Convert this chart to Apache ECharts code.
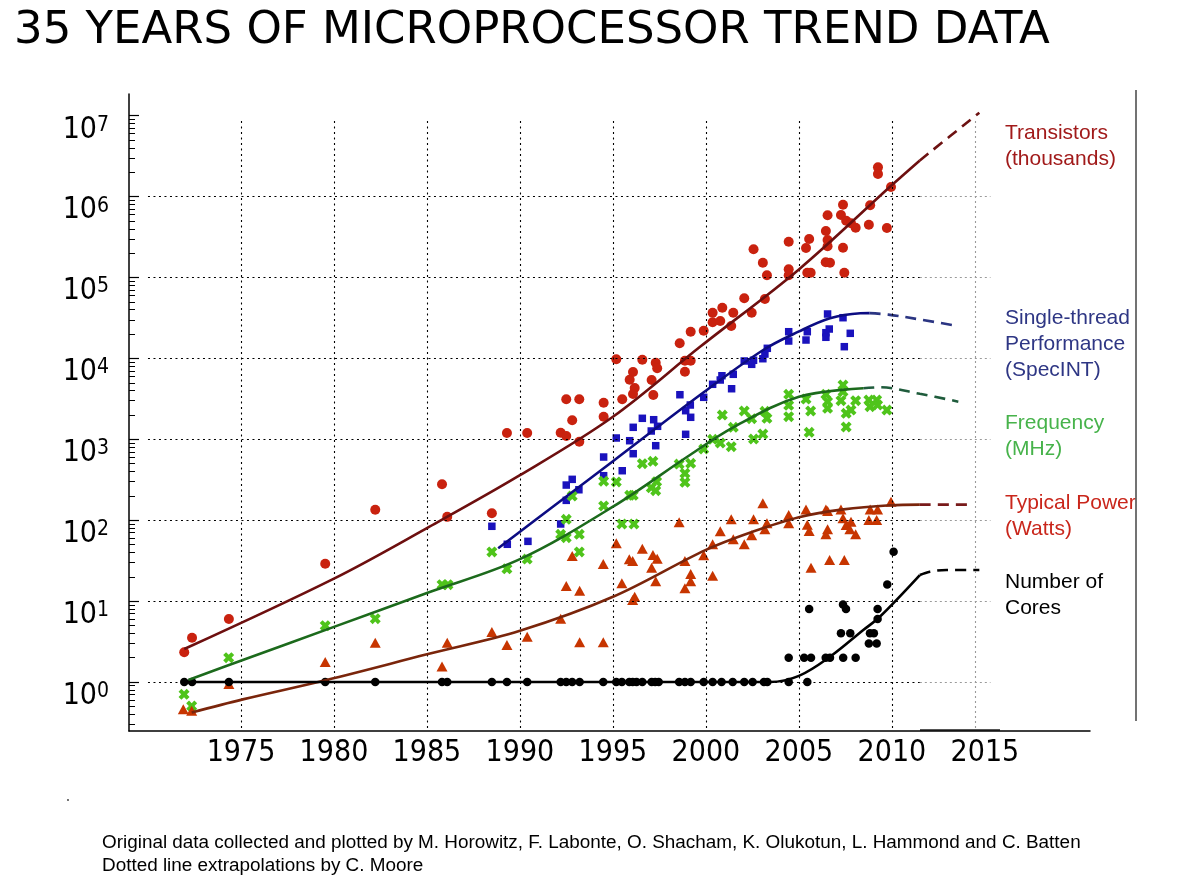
<!DOCTYPE html>
<html><head><meta charset="utf-8">
<script src="https://cdn.jsdelivr.net/npm/echarts@6/dist/echarts.min.js"></script>
<style>html,body{margin:0;padding:0;background:#fff}#c{width:1178px;height:885px}</style>
</head><body><div id="c"></div>
<script>
// ---------- axis ticks / labels ----------
const xTicks = [1975,1980,1985,1990,1995,2000,2005,2010,2015];
const yTicks = [1,10,100,1000,10000,100000,1000000,10000000];
const gridYears = [1975,1980,1985,1990,1995,2000,2005,2010];
const gridDecades = [1,10,100,1000,10000,100000,1000000];
const extrapGridYear = 2014.5;

// ---------- data: [year, value] ----------
const transistors = [
[1971.95,2.33],[1972.37,3.53],[1974.35,6.0],[1979.53,29],[1982.22,135],[1985.81,278],[1986.09,110],
[1988.49,122],[1989.30,1197],[1990.39,1197],[1992.19,1207],[1992.49,1099],[1992.49,3120],[1993.19,3120],[1992.81,1718],[1993.19,934],[1994.50,2834],[1994.50,1903],
[1995.18,9750],[1996.58,9640],[1996.08,6790],[1995.90,5450],[1996.17,4306],[1996.08,3630],[1995.50,3120],[1997.08,5410],[1997.17,3530],[1997.30,8850],[1997.38,7550],
[1998.59,15380],[1999.18,21380],[1998.87,9370],[1999.18,9370],[1998.87,6850],
[1999.88,22000],[2000.36,27930],[2000.36,36730],[2000.77,28980],[2000.88,42360],[2001.36,25130],[2001.47,36730],[2002.06,55330],[2002.46,36730],[2003.17,54240],[2003.06,152400],[2003.28,106400],[2002.56,223300],
[2004.45,277100],[2004.45,126300],[2004.45,106400],[2005.38,231600],[2005.55,299200],[2005.45,114600],[2005.63,114600],
[2006.45,375600],[2006.54,587400],[2006.54,290900],[2006.54,243100],[2006.44,154200],[2006.67,152400],
[2007.44,114600],[2007.37,233500],[2007.37,794000],[2007.26,592300],[2007.54,503800],[2007.80,467600],[2008.05,412800],
[2008.76,449500],[2008.83,780500],[2009.73,409000],[2009.95,1315000],[2009.25,2300000],[2009.25,1900000]
];
const performance = [
[1988.49,84.1],[1989.32,50.4],[1990.43,54.8],[1992.19,89.8],[1992.49,176],[1992.49,272],[1992.81,320],[1993.17,238],[1994.50,604],[1994.50,355],
[1995.18,1038],[1995.50,409],[1995.90,961],[1996.09,1407],[1996.09,664],[1996.58,1818],[1997.19,1747],[1997.40,1448],[1997.06,1267],[1997.30,834],
[1998.60,3558],[1999.16,2655],[1998.91,2258],[1999.18,1871],[1998.91,1153],[1999.88,3304],[2000.36,4786],[2000.86,6110],[2000.77,5410],[2001.38,4219],
[2001.47,6360],[2002.06,9290],[2002.46,8450],[2002.56,9480],[2003.06,9910],[2003.17,11330],[2003.30,13330],[2004.45,21380],[2004.45,16410],[2005.45,21380],
[2005.38,16880],[2006.54,35400],[2006.63,23080],[2006.45,20790],[2006.45,18240],[2007.37,31850],[2007.76,20420],[2007.44,13960]
];
const frequency = [
[1971.94,0.705],[1972.35,0.505],[1974.34,2.0],[1979.53,4.97],[1982.22,6.06],[1985.81,15.95],[1986.13,15.95],[1988.49,40.5],[1989.30,25.1],[1990.39,33.1],
[1992.19,66.9],[1992.49,60.8],[1992.49,102.6],[1993.19,66.9],[1993.19,40.5],[1992.81,199],[1994.50,150],[1994.50,303],[1995.18,297],[1995.48,89.8],
[1996.13,89.8],[1995.90,203],[1996.09,203],[1996.58,499],[1997.15,535],[1997.06,252],[1997.35,299],[1997.30,232],[1998.56,495],[1999.18,505],
[1998.87,380],[1998.87,294],[1999.88,759],[2000.36,1000],[2000.77,900],[2000.88,1996],[2001.36,810],[2001.47,1407],[2002.06,2238],[2002.46,1798],
[2002.56,1009],[2003.06,1163],[2003.17,2218],[2003.28,1818],[2004.45,3597],[2004.45,2632],[2004.45,1903],[2005.38,3148],[2005.55,1220],[2005.63,2238],
[2006.45,3597],[2006.54,2917],[2006.54,2415],[2007.37,4690],[2007.37,3874],[2007.26,2999],[2007.54,2096],[2007.80,2301],[2007.54,1419],[2008.05,2999],
[2008.76,3062],[2009.18,3062],[2008.82,2530],[2009.23,2655],[2009.73,2301]
];
const power = [
[1971.90,0.46],[1972.35,0.442],[1974.35,0.945],[1979.53,1.77],[1982.22,3.06],[1985.81,1.55],[1986.09,3.06],[1988.49,4.15],[1989.30,2.87],[1990.39,3.63],
[1992.19,6.06],[1993.21,3.1],[1994.48,3.1],[1992.49,15.4],[1993.21,13.4],[1992.81,36.1],[1994.48,28.7],[1995.18,51.8],[1995.48,16.6],[1995.88,32.9],
[1996.06,31.3],[1996.58,44.4],[1997.15,37.2],[1997.38,33.4],[1997.08,25.9],[1997.30,17.6],[1996.17,11.3],[1996.06,10.3],[1998.56,94.2],[1998.87,31.3],
[1999.18,21.6],[1999.18,17.6],[1998.87,14.4],[1999.88,36.8],[2000.36,20.6],[2000.36,50.4],[2000.77,72.9],[2001.36,102.6],[2001.47,58.1],[2002.06,50.4],
[2002.46,65.1],[2002.56,102.6],[2003.06,162],[2003.17,77.2],[2003.28,91.6],[2004.45,116],[2004.45,91.6],[2005.38,136],[2005.45,88],[2005.55,73.5],
[2005.65,25.9],[2006.45,136],[2006.54,130],[2006.54,77.2],[2006.45,66.9],[2006.65,32.2],[2007.26,136],[2007.37,105.5],[2007.44,32.2],[2007.54,87.2],
[2007.80,95.8],[2007.74,77.2],[2008.05,66.9],[2008.76,100.5],[2009.18,100.5],[2008.83,136],[2009.23,136],[2009.95,169]
];
const cores = [
[1971.95,1],[1972.37,1],[1974.35,1],[1979.53,1],[1982.22,1],[1985.81,1],[1986.09,1],[1988.49,1],[1989.30,1],[1990.39,1],
[1992.19,1],[1992.49,1],[1992.81,1],[1993.21,1],[1994.48,1],[1995.18,1],[1995.48,1],[1995.88,1],[1996.06,1],[1996.27,1],
[1996.58,1],[1997.08,1],[1997.27,1],[1997.46,1],[1998.56,1],[1998.87,1],[1999.18,1],[1999.88,1],[2000.36,1],[2000.84,1],
[2001.44,1],[2002.06,1],[2002.51,1],[2003.12,1],[2003.30,1],[2004.45,1],[2005.45,1],
[2004.45,2],[2005.28,2],[2005.65,2],[2006.44,2],[2006.67,2],[2007.38,2],[2008.05,2],
[2005.55,8],[2007.37,9.1],[2007.53,8],[2007.26,4],[2007.76,4],[2008.76,3],[2009.18,3],[2008.82,4],[2009.03,4],
[2009.23,6],[2009.23,8],[2009.75,16],[2010.09,40.8]
];

// ---------- trend lines (fits) and extrapolations ----------
const transTrend = [[1971.95,2.56],[1980,19],[1985,80],[1990,360],[1995,1900],[1999.7,14000],[2005,126000],[2010,1390000],[2011.5,2800000]];
const transExtrap = [[2011.5,2800000],[2014.7,10900000]];
const perfTrend = [[1988.83,45],[1990.81,100],[1995,536],[1999.68,3530],[2003.08,12700],[2004.98,21400],[2006.67,31300],[2008.3,36100],[2008.8,36300]];
const perfExtrap = [[2008.8,36300],[2009.8,34800],[2011.5,30300],[2013.57,25100]];
const freqTrend = [[1972.17,1.06],[1975.1,1.87],[1980,4.8],[1985,12.6],[1990,33],[1995,147],[1999.14,640],[2001.47,1407],[2005,3363],[2008.46,4270]];
const freqExtrap = [[2008.46,4270],[2009.35,4400],[2011.5,3650],[2013.57,2920]];
const powerTrend = [[1972.35,0.42],[1975.1,0.61],[1979.6,1.06],[1985,2.2],[1990,4.3],[1995,11.3],[2000,43],[2002.5,72],[2005,109],[2007.4,136],[2009.9,153],[2011.5,156]];
const powerExtrap = [[2011.5,156],[2014.4,156]];
const coresTrend = [[1971.95,1],[2002,1],[2003.44,1],[2005,1.19],[2006.67,2.05],[2008.46,4.39],[2009.35,6.41],[2011.5,21]];
const coresExtrap = [[2011.5,21],[2012.04,23.1],[2012.94,24.2],[2014.7,24.2]];

// ---------- chart ----------
const AX = "'DejaVu Sans Condensed','DejaVu Sans',sans-serif";
const SANS = "'Liberation Sans',Arial,sans-serif";
const Y_MIN = 0.248, Y_MAX = 1.855e7;
const GRID_TOP_VAL = 8.6e6;

const minorTicks = [];
[0.1].concat(yTicks.slice(0, 7)).forEach(d => { for (let k = 2; k <= 9; k++) { const v = +(k * d).toPrecision(3); if (v > Y_MIN && v < Y_MAX) minorTicks.push(v); } });

const gridBlack = {color:'#000', type:[2,3.5], width:1.1};
const gridGray = {color:'#9a9a9a', type:[2,3], width:1.1};
const markData = [];
gridYears.forEach(y => markData.push([{coord:[y, GRID_TOP_VAL], lineStyle:gridBlack}, {coord:[y, Y_MIN]}]));
gridDecades.forEach(v => {
  markData.push([{coord:[1970.0, v], lineStyle:gridBlack}, {coord:[2011.5, v]}]);
  markData.push([{coord:[2011.5, v], lineStyle:gridGray}, {coord:[2015.3, v]}]);
});
markData.push([{coord:[extrapGridYear, GRID_TOP_VAL], lineStyle:gridGray}, {coord:[extrapGridYear, Y_MIN]}]);

const X_PATH = 'path://M0,2.6 L2.6,0 L5,2.4 L7.4,0 L10,2.6 L7.6,5 L10,7.4 L7.4,10 L5,7.6 L2.6,10 L0,7.4 L2.4,5 Z';

function scatter(name, data, symbol, size, color) {
  return {name, type:'scatter', data, symbol, symbolSize:size, z:3,
    itemStyle:{color, opacity:1}, emphasis:{disabled:true}, silent:true};
}
function trend(data, color, dashed) {
  return {type:'line', data, showSymbol:false, symbol:'none', smooth:0.35, z: dashed ? 4 : 5,
    lineStyle:{color, width:2.6, type: dashed ? [11,7] : 'solid'}, emphasis:{disabled:true}, silent:true};
}

const chart = echarts.init(document.getElementById('c'), null, {renderer:'canvas'});
chart.setOption({
  animation:false,
  backgroundColor:'#fff',
  grid:{left:129, top:94, width:961, height:637, outerBoundsMode:'none', containLabel:false},
  xAxis:{type:'value', min:1968.98, max:2020.65,
    axisLine:{show:true, lineStyle:{color:'#000', width:1.5}},
    axisTick:{show:false}, splitLine:{show:false},
    axisLabel:{customValues:xTicks, formatter:v => String(v), fontFamily:AX, fontSize:30, color:'#000', margin:7}},
  yAxis:[
    {type:'log', logBase:10, min:Y_MIN, max:Y_MAX,
      axisLine:{show:true, lineStyle:{color:'#000', width:1.5}},
      axisTick:{show:true, inside:true, length:10, customValues:yTicks, lineStyle:{color:'#000', width:1.2}},
      splitLine:{show:false}, minorTick:{show:false},
      axisLabel:{customValues:yTicks, margin:20, padding:[28,0,0,0],
        formatter:v => '{b|10}{e|' + Math.round(Math.log10(v)) + '}',
        rich:{b:{fontFamily:AX, fontSize:30, color:'#000', lineHeight:30, padding:[10,0,0,0], verticalAlign:'bottom'},
              e:{fontFamily:AX, fontSize:21, color:'#000', lineHeight:22, verticalAlign:'top'}}}},
    {type:'log', logBase:10, min:Y_MIN, max:Y_MAX, position:'left',
      axisLine:{show:false}, axisLabel:{show:false}, splitLine:{show:false},
      axisTick:{show:true, inside:true, length:6, customValues:minorTicks, lineStyle:{color:'#000', width:1}}}
  ],
  series:[
    {type:'scatter', data:[], z:1, silent:true,
      markLine:{silent:true, symbol:['none','none'], label:{show:false}, emphasis:{disabled:true}, animation:false, data:markData}},
    scatter('Transistors', transistors, 'circle', 10, '#c9220f'),
    scatter('Single-thread Performance', performance, 'rect', 7.5, '#1a12bd'),
    scatter('Frequency', frequency, X_PATH, 11, '#4fc41b'),
    scatter('Typical Power', power, 'triangle', [11,10], '#c73500'),
    scatter('Number of Cores', cores, 'circle', 8.5, '#000'),
    trend(transTrend, '#6d0f0f', false), trend(transExtrap, '#6d1212', true),
    trend(perfTrend, '#0c0c82', false), trend(perfExtrap, '#2b3582', true),
    trend(freqTrend, '#1c6a1c', false), trend(freqExtrap, '#1f5c3c', true),
    trend(powerTrend, '#7a250b', false), trend(powerExtrap, '#781a1a', true),
    trend(coresTrend, '#000', false), trend(coresExtrap, '#000', true)
  ],
  graphic:[
    {type:'text', x:14, y:31, style:{text:'35 YEARS OF MICROPROCESSOR TREND DATA', font:"45px 'DejaVu Sans'", fill:'#000', align:'left', verticalAlign:'middle'}},
    {type:'text', x:1005, y:120, style:{text:'Transistors\n(thousands)', font:"21px "+SANS, lineHeight:26, fill:'#a11a1a', align:'left', verticalAlign:'top'}},
    {type:'text', x:1005, y:305, style:{text:'Single-thread\nPerformance\n(SpecINT)', font:"21px "+SANS, lineHeight:26, fill:'#2e3684', align:'left', verticalAlign:'top'}},
    {type:'text', x:1005, y:410, style:{text:'Frequency\n(MHz)', font:"21px "+SANS, lineHeight:26, fill:'#47b34b', align:'left', verticalAlign:'top'}},
    {type:'text', x:1005, y:490, style:{text:'Typical Power\n(Watts)', font:"21px "+SANS, lineHeight:26, fill:'#c9261b', align:'left', verticalAlign:'top'}},
    {type:'text', x:1005, y:569, style:{text:'Number of\nCores', font:"21px "+SANS, lineHeight:26, fill:'#000', align:'left', verticalAlign:'top'}},
    {type:'text', x:102, y:843, style:{text:'Original data collected and plotted by M. Horowitz, F. Labonte, O. Shacham, K. Olukotun, L. Hammond and C. Batten', font:"18.9px "+SANS, fill:'#000', align:'left', verticalAlign:'middle'}},
    {type:'text', x:102, y:866, style:{text:'Dotted line extrapolations by C. Moore', font:"18.9px "+SANS, fill:'#000', align:'left', verticalAlign:'middle'}},
    {type:'line', shape:{x1:1136, y1:90, x2:1136, y2:721}, style:{stroke:'#444', lineWidth:1.5}},
    {type:'line', shape:{x1:920, y1:730, x2:1000, y2:730}, style:{stroke:'#555', lineWidth:2}},
    {type:'circle', shape:{cx:68, cy:800, r:0.9}, style:{fill:'#333'}}
  ]
});
</script>
</body></html>
